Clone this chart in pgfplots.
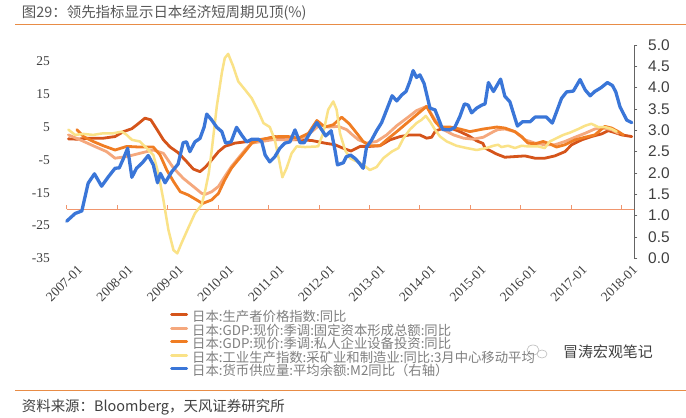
\documentclass[border=0pt]{standalone}
\usepackage{pgfplots}
\pgfplotsset{compat=1.18}
\usepackage{fontspec}
\setmainfont{Liberation Serif}
\newfontfamily\cjk{Noto Sans CJK SC}
\newfontfamily\arial{Liberation Sans}

\definecolor{ppi}{RGB}{213,84,26}
\definecolor{gfcf}{RGB}{245,168,125}
\definecolor{capex}{RGB}{240,125,35}
\definecolor{ipcol}{RGB}{250,226,135}
\definecolor{mtwo}{RGB}{58,118,216}
\definecolor{xax}{RGB}{240,150,110}
\definecolor{divider}{RGB}{232,140,70}
\definecolor{titlegray}{RGB}{89,89,89}
\definecolor{labgray}{RGB}{64,64,64}
\definecolor{leggray}{RGB}{128,128,128}
\definecolor{axgray}{RGB}{100,100,100}

\begin{document}
\begin{tikzpicture}
\path[use as bounding box] (0bp,0bp) rectangle (686bp,418bp);
\fill[white] (0bp,0bp) rectangle (686bp,418bp);

% title and source
\node[anchor=west, inner sep=0pt, text=titlegray, font=\cjk\fontsize{14.5}{14.5}\selectfont]
  at (21.7bp,405.5bp) {图29：领先指标显示日本经济短周期见顶(\%)};
\draw[divider, line width=1bp] (15bp,393.5bp) -- (686bp,393.5bp);
\draw[divider, line width=1bp] (15bp,27bp) -- (686bp,27bp);
\node[anchor=west, inner sep=0pt, text=labgray, font=\cjk\fontsize{14.5}{14.5}\selectfont]
  at (21.7bp,11.3bp) {资料来源：Bloomberg，天风证券研究所};

% watermark
\draw[gray!55, line width=0.6bp] (533bp,68bp) ellipse (6bp and 5bp);
\draw[gray!55, line width=0.6bp] (542bp,64bp) ellipse (5bp and 4bp);
\node[anchor=west, inner sep=0pt, text=black!75, font=\cjk\fontsize{15}{15}\selectfont]
  at (563bp,66.3bp) {冒涛宏观笔记};

\begin{axis}[
  at={(66.7bp,159.7bp)}, anchor=south west,
  scale only axis, width=567.6bp, height=213.3bp,
  xmin=0, xmax=135, ymin=-35, ymax=30,
  axis x line*=bottom, axis y line*=left,
  axis line style={draw=none},
  xtick={0,12,24,36,48,60,72,84,96,108,120,132},
  xticklabels={2007-01,2008-01,2009-01,2010-01,2011-01,2012-01,2013-01,2014-01,2015-01,2016-01,2017-01,2018-01},
  ytick={-35,-25,-15,-5,5,15,25},
  yticklabels={-35,-25,-15,-5,5,15,25},
  major tick length=0pt,
  xticklabel style={rotate=45, anchor=east, inner sep=0pt, text=labgray,
    font=\fontsize{13.5}{13.5}\selectfont, xshift=3bp, yshift=-16bp},
  yticklabel style={anchor=east, inner sep=0pt, text=labgray,
    font=\fontsize{13.5}{13.5}\selectfont, xshift=-16.7bp},
  clip=false,
  every axis plot/.append style={line join=round, line cap=round},
]
\draw[xax, line width=1bp] (axis cs:0,-20) -- (axis cs:135,-20);
\pgfplotsinvokeforeach{0,12,24,36,48,60,72,84,96,108,120,132}{
  \draw[xax, line width=0.8bp] (axis cs:#1,-20) -- ++(0bp,4bp);
}

% Japan PPI yoy
\addplot[ppi, line width=2.8bp] coordinates {
(0.4,1.4) (2.4,1.3) (5.5,1.6) (8.7,1.6) (11.5,2.1) (13.5,3.6) (15.5,4.5) (17,6.0)
(18.6,7.7) (20,7.2) (21.4,4.4) (23,1.1) (24.6,-1.1) (26.5,-2.8) (28.5,-5.5) (30.1,-7.8)
(31.7,-8.6) (33,-7.2) (34.5,-5.0) (36.1,-2.5) (37.6,-0.9) (40,0.1) (43.2,0.6) (46.4,1.1)
(49.5,2.1) (51.9,1.1) (55.1,1.1) (58.3,0.9) (61.4,0.1) (63.8,-0.4) (66.2,-1.7) (67.6,-2.3)
(69.8,-0.9) (72.1,-0.9) (74.5,-0.7) (76.9,1.1) (79.3,2.1) (81.6,2.6) (84,2.6) (85.6,1.6)
(86.8,1.9) (87.7,3.8) (89.5,4.6) (91.5,4.6) (93.5,3.6) (95.5,2.4) (97.5,0.8) (99,0.0)
(99.5,-1.4) (100.7,-2.2) (102.2,-3.2) (104.2,-4.2) (106.6,-4.0) (109,-3.8) (111.4,-4.5)
(113.7,-4.5) (116.1,-3.8) (118.5,-2.5) (120.1,-0.4) (122.5,1.1) (124.8,2.1) (127.2,2.9)
(128.8,3.9) (130.4,3.3) (132,2.6) (134.4,2.1)
};

% GDP gross fixed capital formation yoy
\addplot[gfcf, line width=2.8bp] coordinates {
(0.4,2.6) (3.2,1.1) (6.3,-0.7) (9.5,-2.5) (11.5,-4.5) (14.3,-4.0) (17.4,-3.0) (20.6,-2.0)
(23,-3.0) (25.4,-7.5) (27.7,-10.6) (30.1,-13.1) (32.1,-15.2) (33,-15.5) (34.5,-14.7)
(36.1,-13.1) (37.6,-10.1) (39.2,-7.0) (40.8,-4.5) (42.4,-2.0) (44,0.1) (46.4,0.6)
(48.8,1.1) (51.1,1.1) (53.5,1.1) (55.9,1.6) (58.3,3.6) (60.2,5.7) (62.2,5.0) (64.6,5.2)
(66.6,4.2) (67.8,2.8) (69.4,1.1) (71.3,0.1) (73.7,0.6) (76.1,2.6) (78.5,5.4) (80.9,7.7)
(83.2,10.0) (85.6,11.3) (87.6,7.2) (89.6,4.2) (92,2.6) (94.4,1.6) (96.7,1.3) (99.1,1.9)
(101.5,3.6) (102.5,4.2) (104.2,4.4) (106.6,3.6) (109,1.1) (111.4,0.1) (113.7,-0.4)
(116.1,-0.4) (118.5,0.6) (120.9,1.9) (123.3,3.1) (125.6,4.4) (127.6,4.7) (129.6,4.2)
(131.2,3.1)
};

% GDP private non-residential investment yoy
\addplot[capex, line width=2.8bp] coordinates {
(2.4,4.2) (4,2.1) (6.3,0.6) (8.7,-0.7) (11.5,-2.0) (14.3,-0.9) (17.4,-1.1) (20.6,-1.1)
(22.2,-3.5) (23.8,-8.1) (25.4,-11.6) (27,-14.7) (28.9,-15.7) (30.9,-17.2) (32.3,-18.3)
(34.5,-17.2) (36.1,-15.2) (37.6,-11.1) (39.2,-7.5) (40.8,-5.0) (42.4,-2.5) (44,0.1)
(45.6,1.1) (47.9,1.6) (50.3,2.1) (52.7,2.1) (55.1,1.6) (57.5,3.1) (59.5,7.0) (61.4,5.0)
(63.4,5.7) (65.4,8.0) (67.2,6.0) (69,3.1) (70.5,0.6) (72.1,-0.7) (74.5,-0.7) (76.1,1.1)
(78.5,3.6) (80.9,6.2) (83.2,8.7) (85.6,11.3) (87.6,6.7) (88.8,5.0) (91.2,5.0) (93.5,4.4)
(95.9,3.6) (99.1,4.4) (102.3,5.0) (104.2,4.7) (106.6,3.6) (108.2,2.1) (109.7,0.1)
(111.4,-0.1) (113.3,0.6) (114.9,-0.1) (116.5,-1.1) (118.5,-0.4) (120.9,1.1) (123.3,1.9)
(125.6,2.6) (128,5.2) (129.6,4.7) (131.2,3.6) (132.4,2.6)
};

% industrial production, 3m centred MA
\addplot[ipcol, line width=2.5bp] coordinates {
(0.4,4.2) (2,2.6) (4,2.9) (6.3,2.6) (8.7,3.1) (11.1,3.1) (13.1,3.6) (14.3,2.6) (15.5,1.1)
(17.4,0.6) (19,-1.4) (20.6,-3.5) (21.8,-9.1) (23,-17.2) (24.2,-26.4) (25.4,-32.5)
(26.3,-33.5) (27.3,-30.4) (28.9,-25.8) (30.5,-21.3) (32.1,-18.7) (33,-14.0) (33.8,-9.0)
(34.5,-2.0) (35.7,11.3) (36.9,21.5) (37.6,26.0) (38.4,27.3) (39.6,23.5) (40.8,18.9)
(42.4,16.4) (44,13.8) (45.6,9.7) (46.8,6.2) (48.3,5.0) (49.5,1.1) (50.5,-5.0) (51.3,-10.3)
(52.3,-7.5) (53.5,-3.0) (54.7,-0.9) (56.7,-1.1) (59.8,-0.9) (61,3.1) (62.2,10.3)
(63.4,12.8) (64.2,10.3) (65,3.1) (66.2,-2.0) (67.4,-4.5) (69,-5.5) (70.5,-6.5) (72.1,-8.1)
(73.7,-7.2) (75.3,-4.5) (77.3,-2.5) (78.9,-1.4) (80.1,1.6) (81.6,4.2) (83.2,6.2) (84.4,7.2)
(85.4,8.4) (86.4,6.7) (87.6,4.2) (88.8,2.1) (90.4,0.6) (92.7,-0.7) (95.1,-1.4) (97.5,-2.0)
(99.8,-1.4) (101.5,-0.7) (102.6,-0.4) (103.4,-1.1) (105,-0.7) (106.6,-1.4) (108.2,-0.7)
(109.7,-0.9) (112.1,-0.9) (113.7,-1.4) (114.9,0.6) (116.5,1.6) (118.1,2.6) (119.7,3.3)
(121.7,4.4) (123.3,5.4) (124.8,6.0) (126.4,5.0) (128,5.0) (129.6,4.4) (130.8,3.6)
};
\end{axis}

\begin{axis}[
  at={(66.7bp,159.7bp)}, anchor=south west,
  scale only axis, width=567.6bp, height=213.3bp,
  xmin=0, xmax=135, ymin=0, ymax=5,
  axis x line=none, xtick=\empty,
  axis y line*=right,
  y axis line style={draw=axgray, line width=0.9bp},
  ytick={0,0.5,1,1.5,2,2.5,3,3.5,4,4.5,5},
  yticklabels={0.0,0.5,1.0,1.5,2.0,2.5,3.0,3.5,4.0,4.5,5.0},
  tick align=outside, major tick length=3bp,
  ytick style={draw=axgray, line width=0.8bp},
  yticklabel style={anchor=west, inner sep=0pt, text=labgray,
    font=\arial\fontsize{15.5}{15.5}\selectfont, xshift=10.7bp},
  clip=false,
  every axis plot/.append style={line join=round, line cap=round},
  legend style={at={(0.182,-0.249)}, anchor=north west, draw=none, fill=none,
    inner sep=0pt, row sep=0pt, column sep=4bp, text=leggray,
    font=\cjk\fontsize{13.4}{13.4}\selectfont, cells={anchor=west},
    nodes={inner sep=0pt, text height=10bp, text depth=3.5bp}},
  legend image code/.code={\draw[#1, line width=3bp] (0bp,3.5bp) -- (15bp,3.5bp);},
]
\addlegendimage{ppi}
\addlegendentry{日本:生产者价格指数:同比}
\addlegendimage{gfcf}
\addlegendentry{日本:GDP:现价:季调:固定资本形成总额:同比}
\addlegendimage{capex}
\addlegendentry{日本:GDP:现价:季调:私人企业设备投资:同比}
\addlegendimage{ipcol}
\addlegendentry{日本:工业生产指数:采矿业和制造业:同比:3月中心移动平均}

% Japan M2 average balance yoy (right axis)
\addplot[mtwo, line width=3.3bp] coordinates {
(0,0.87) (2,1.05) (3.6,1.11) (5.1,1.76) (6.6,1.98) (8.3,1.69) (9.9,1.91) (11.5,2.11)
(12.5,2.12) (13.5,2.34) (14.5,2.58) (15.5,1.90) (16.6,2.11) (18,2.24) (19.4,2.41)
(20.6,2.19) (21.6,1.77) (22.3,1.99) (23.4,1.77) (25,2.03) (26.5,2.21) (27.7,2.71)
(28.5,2.73) (29.3,2.50) (30.5,2.73) (31.7,2.81) (32.7,3.08) (33.3,3.38) (34.5,3.24)
(35.7,3.07) (36.9,2.97) (37.8,2.70) (39.1,2.73) (40.4,3.07) (41.6,2.89) (42.8,2.73)
(44,2.79) (45.6,2.79) (46.4,2.73) (47.2,2.42) (48.3,2.26) (49.5,2.38) (50.7,2.58)
(51.9,2.70) (53.1,2.73) (54.3,3.01) (55.5,2.71) (56.5,2.71) (57.9,2.94) (59.5,3.18)
(60.6,3.02) (61.6,2.87) (62.9,2.99) (63.8,2.54) (64.4,2.19) (65.8,2.24) (66.5,2.38)
(67.5,2.42) (68.6,2.34) (69.6,2.23) (70.5,2.11) (71.3,2.60) (72.5,2.77) (73.7,2.99)
(74.9,3.18) (76.1,3.48) (77.4,3.81) (78.5,3.69) (79.7,3.83) (80.7,3.91) (81.6,4.14)
(82.4,4.40) (83.2,4.24) (84,4.30) (85,4.10) (85.8,3.77) (86.4,3.52) (87.6,3.48)
(88.6,3.23) (89.4,3.02) (91.2,3.01) (92.3,3.07) (93.5,3.32) (94.6,3.62) (95.5,3.59)
(96.3,3.41) (97.5,3.52) (98.7,3.59) (99.5,3.62) (100.3,4.12) (101.5,3.91) (103.2,4.20)
(104.2,3.80) (105.4,3.67) (107.2,3.10) (108.4,3.20) (110.2,3.20) (111.4,3.31)
(114.1,3.31) (115.5,3.17) (117.7,3.75) (118.9,3.90) (120.5,3.92) (122.1,4.19)
(123.3,3.95) (124.5,3.81) (125.6,3.91) (127.1,4.00) (128.6,4.12) (129.8,4.05)
(130.6,3.90) (131.6,3.55) (133.2,3.24) (134.4,3.18)
};
\addlegendentry{日本:货币供应量:平均余额:M2同比（右轴）}
\end{axis}
\end{tikzpicture}
\end{document}
